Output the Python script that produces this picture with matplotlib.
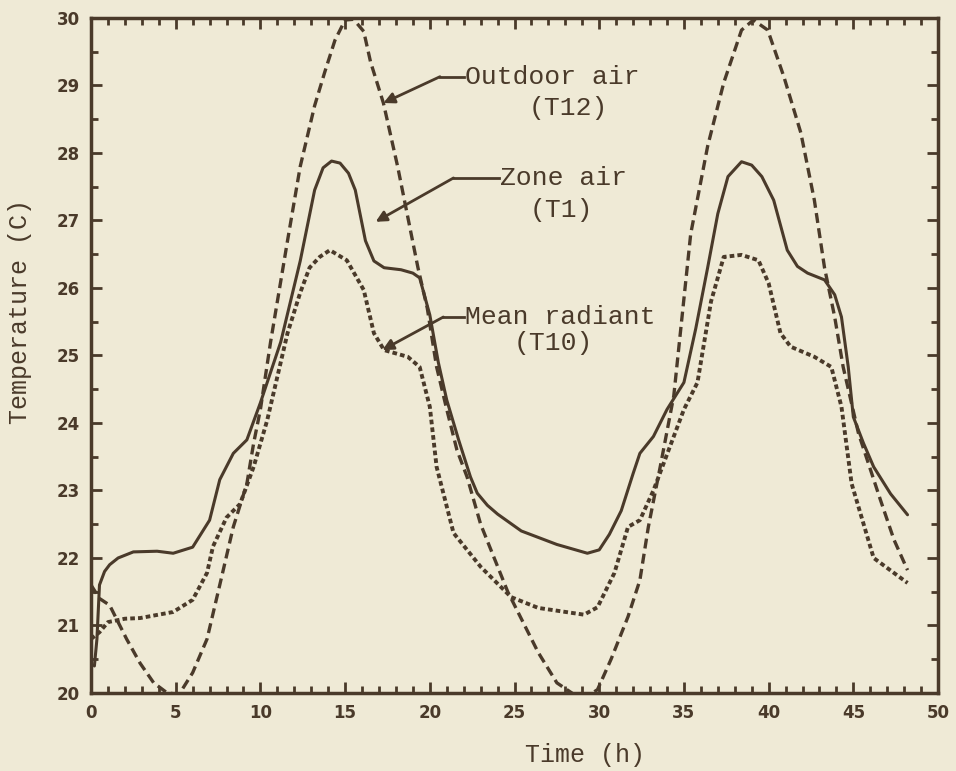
import numpy as np
import matplotlib
matplotlib.use("Agg")
import matplotlib.pyplot as plt
from matplotlib.ticker import MultipleLocator

# values
zone_t = [0.2, 0.35, 0.5, 0.8, 1.1, 1.6, 2.5, 3.9, 4.85, 6.0, 7.0, 7.6, 8.4, 9.2, 10.0,
          11.2, 12.35, 13.2, 13.7, 14.2, 14.7, 15.2, 15.6, 16.2, 16.7, 17.3, 18.3, 19.0,
          19.4, 20.0, 20.5, 21.0, 21.7, 22.4, 22.8, 23.4, 24.0, 25.4, 27.5, 29.3, 30.0,
          30.6, 31.3, 32.0, 32.4, 33.2, 34.0, 35.0, 35.7, 36.4, 37.0, 37.6, 38.4, 39.0,
          39.6, 40.3, 41.1, 41.7, 42.3, 43.3, 43.9, 44.3, 44.7, 45.0, 45.6, 46.2, 47.2, 48.2]
zone_T = [20.4, 20.8, 21.6, 21.8, 21.9, 22.0, 22.09, 22.1, 22.07, 22.16, 22.56, 23.16,
          23.55, 23.75, 24.3, 25.2, 26.4, 27.45, 27.78, 27.88, 27.85, 27.7, 27.45, 26.7,
          26.4, 26.3, 26.27, 26.22, 26.15, 25.6, 24.9, 24.34, 23.75, 23.2, 22.96, 22.78,
          22.65, 22.4, 22.2, 22.07, 22.12, 22.35, 22.7, 23.25, 23.55, 23.8, 24.2, 24.6,
          25.4, 26.3, 27.1, 27.65, 27.87, 27.82, 27.65, 27.3, 26.56, 26.32, 26.22, 26.12,
          25.9, 25.57, 24.83, 24.09, 23.7, 23.35, 22.95, 22.64]

out_t = [0.0, 0.5, 1.1, 2.1, 2.9, 3.7, 4.5, 5.2, 6.0, 6.85, 7.6, 8.4, 9.2, 9.6, 10.0,
         10.6, 11.0, 11.6, 12.35, 13.2, 13.8, 14.4, 15.0, 15.5, 16.1, 16.5, 17.26, 18.1,
         18.7, 19.3, 19.85, 20.4, 21.0, 21.6, 22.2, 23.0, 23.8, 24.6, 25.4, 26.4, 27.5,
         28.5, 29.3, 29.9, 30.7, 31.7, 32.4, 32.9, 33.6, 34.4, 35.4, 36.4, 37.35, 38.4,
         39.1, 39.95, 40.9, 41.9, 42.7, 43.3, 43.9, 44.4, 45.3, 46.6, 47.4, 48.2]
out_T = [21.6, 21.4, 21.3, 20.8, 20.44, 20.15, 20.0, 19.98, 20.3, 20.8, 21.6, 22.46,
         23.1, 23.7, 24.2, 25.2, 25.8, 26.7, 27.8, 28.7, 29.2, 29.67, 29.97, 29.98, 29.8,
         29.35, 28.74, 27.8, 27.05, 26.3, 25.7, 24.83, 24.2, 23.6, 23.2, 22.5, 22.0, 21.5,
         21.1, 20.6, 20.15, 19.98, 19.95, 20.05, 20.5, 21.13, 21.67, 22.46, 23.35, 24.4,
         26.8, 28.1, 29.04, 29.82, 29.97, 29.82, 29.13, 28.3, 27.3, 26.3, 25.57, 24.83,
         23.85, 22.86, 22.27, 21.82]

mrt_t = [0.0, 0.5, 1.0, 2.0, 2.9, 4.85, 6.0, 6.85, 7.2, 8.0, 8.8, 9.6, 10.4, 11.6, 12.35,
         12.9, 13.5, 14.1, 15.1, 16.1, 16.7, 17.3, 18.7, 19.4, 20.0, 20.4, 21.4, 23.0,
         24.8, 26.4, 29.1, 29.9, 30.9, 31.7, 32.4, 33.2, 35.0, 35.8, 36.6, 37.35, 38.4,
         39.4, 40.0, 40.7, 41.3, 42.7, 43.7, 44.3, 44.9, 46.2, 48.2]
mrt_T = [20.8, 20.9, 21.05, 21.1, 21.11, 21.2, 21.38, 21.78, 22.17, 22.6, 22.8, 23.35,
         24.04, 25.33, 25.93, 26.3, 26.46, 26.56, 26.41, 25.97, 25.33, 25.08, 24.98, 24.83,
         24.24, 23.35, 22.37, 21.87, 21.42, 21.26, 21.16, 21.27, 21.78, 22.46, 22.56, 23.0,
         24.2, 24.6, 25.8, 26.46, 26.49, 26.41, 26.07, 25.33, 25.13, 24.98, 24.83, 24.24,
         23.1, 22.0, 21.63]

bg = "#efead6"
ink = "#4a3a2a"
mono = "Liberation Mono"

fig = plt.figure(figsize=(9.56, 7.71), dpi=100, facecolor=bg)
ax = fig.add_axes([0.0952, 0.1012, 0.8860, 0.8755], facecolor=bg)

ax.plot(zone_t, zone_T, color=ink, lw=2.2, solid_capstyle="round")
ax.plot(out_t, out_T, color=ink, lw=2.4, linestyle=(0, (3, 1.6)))
ax.plot(mrt_t, mrt_T, color=ink, lw=2.8, linestyle=(0, (1.2, 0.8)))

ax.set_xlim(0, 50)
ax.set_ylim(20, 30)
ax.xaxis.set_major_locator(MultipleLocator(5))
ax.xaxis.set_minor_locator(MultipleLocator(1))
ax.yaxis.set_major_locator(MultipleLocator(1))
ax.yaxis.set_minor_locator(MultipleLocator(0.5))
ax.tick_params(which="both", direction="in", top=True, right=True, color=ink,
               width=2, labelcolor=ink)
ax.tick_params(which="major", length=8, pad=8)
ax.tick_params(which="minor", length=5)
for lab in ax.get_xticklabels() + ax.get_yticklabels():
    lab.set_fontweight("bold")
    lab.set_fontsize(12)
for sp in ax.spines.values():
    sp.set_color(ink)
    sp.set_linewidth(2.5)

fig.text(585 / 956, 1 - 755 / 771, "Time (h)", family=mono, fontsize=18, color=ink,
         ha="center", va="center")
fig.text(20 / 956, 1 - 312 / 771, "Temperature (C)", family=mono, fontsize=18,
         color=ink, ha="center", va="center", rotation=90)

# leader labels: lines, text x, leader y, 2nd line x/y, elbow x, arrow tip (data coords)
labels = [
    ("Outdoor air", "(T12)", 22.1, 29.13, 28.19, 28.67, 20.6, (17.26, 28.74)),
    ("Zone air", "(T1)", 24.17, 27.63, 27.78, 27.16, 21.4, (16.8, 26.98)),
    ("Mean radiant", "(T10)", 22.1, 25.57, 27.3, 25.19, 20.8, (17.2, 25.08)),
]
for top, sub, tx, ly, sx, sy, ex, tip in labels:
    ax.plot([tx - 0.1, ex], [ly, ly], color=ink, lw=2)
    ax.annotate("", xy=tip, xytext=(ex, ly),
                arrowprops=dict(arrowstyle="-|>", color=ink, lw=2,
                                mutation_scale=16, shrinkA=0, shrinkB=0))
    ax.text(tx, ly, top, family=mono, fontsize=19, color=ink, ha="left", va="center")
    ax.text(sx, sy, sub, family=mono, fontsize=19, color=ink,
            ha="center", va="center")

fig.savefig("out.png", dpi=100, facecolor=bg)
